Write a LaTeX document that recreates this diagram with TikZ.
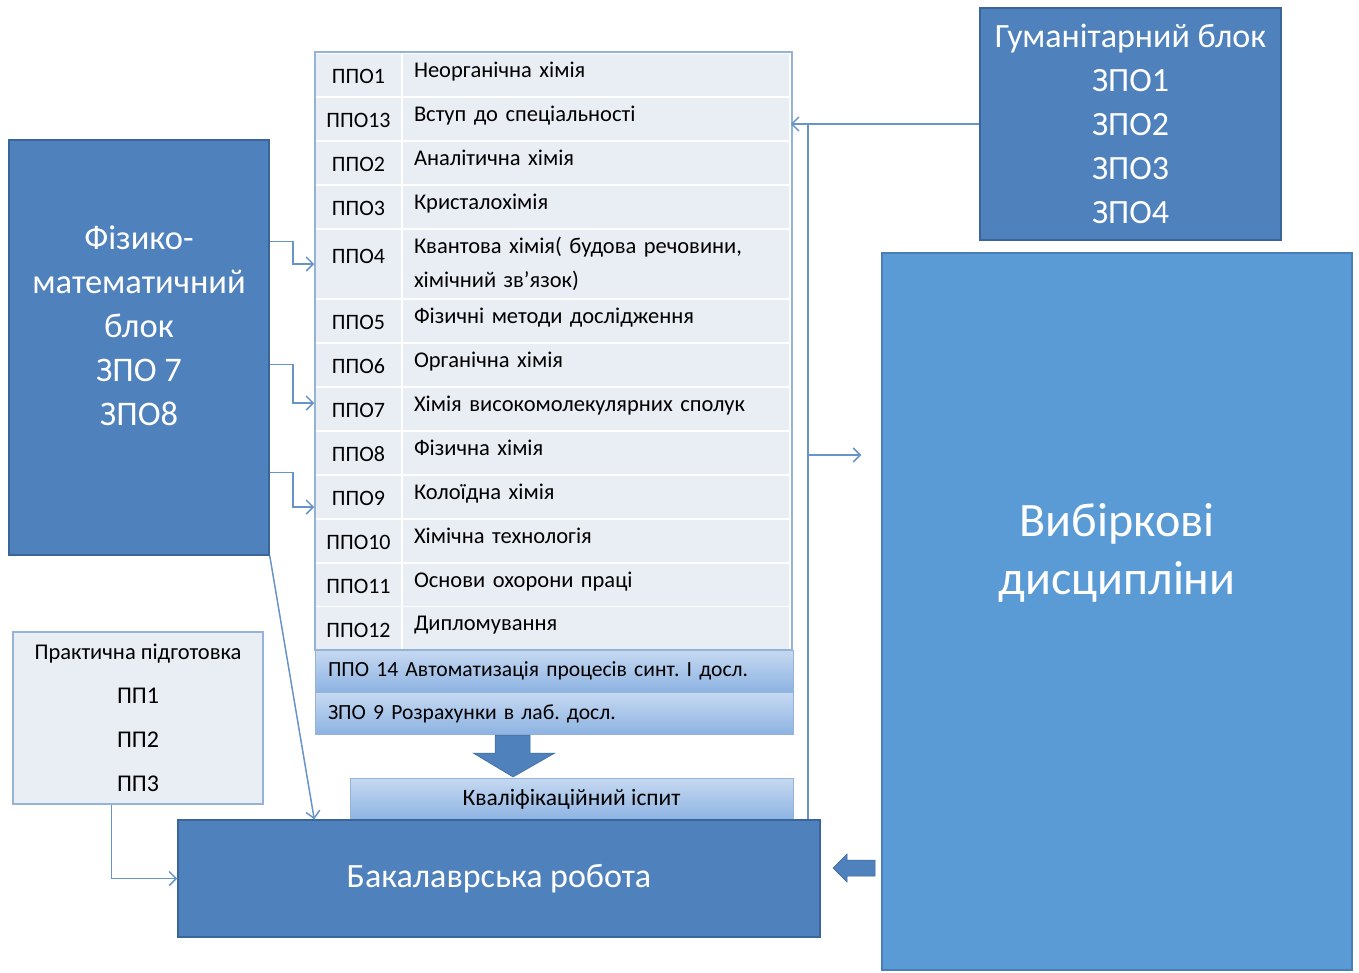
\documentclass[tikz,border=0pt]{standalone}
\usepackage{fontspec}
\setmainfont{Carlito}
\usetikzlibrary{calc,arrows.meta}
\definecolor{boxblue}{HTML}{4F81BD}
\definecolor{boxedge}{HTML}{3A659B}
\definecolor{lightblue}{HTML}{5B9BD5}
\definecolor{lightedge}{HTML}{4A7EBB}
\definecolor{cellgray}{HTML}{E9EDF4}
\definecolor{framecolor}{HTML}{95B3D7}
\definecolor{bartop}{HTML}{C6D9F1}
\definecolor{barbottom}{HTML}{8DB3E2}
\newcommand{\linecolor}{boxblue!85!white}
\newcommand{\thickness}{1.5pt}
\frenchspacing

\begin{document}
\begin{tikzpicture}[x=1pt,y=-1pt,
  bigbox/.style={draw=boxedge, fill=boxblue, line width=\thickness, text=white, inner sep=0pt, align=center},
  bigtext/.style={text=white, inner sep=0pt, align=center},
  lcell/.style={fill=cellgray, draw=white, line width=\thickness, minimum width=87pt, minimum height=44pt, inner sep=0pt, font=\fontsize{22}{26}\selectfont, text height=17pt, text depth=0pt},
  tcell/.style={fill=cellgray, draw=white, line width=\thickness, minimum width=388pt, minimum height=44pt, inner sep=0pt, text width=364pt, align=left, font=\fontsize{22.5}{34}\selectfont},
  tline/.style={tcell, text height=15pt, text depth=11pt},
  bar/.style={top color=bartop, bottom color=barbottom, draw=framecolor, line width=1pt, minimum width=478pt, minimum height=42pt, inner sep=0pt, text width=452pt, align=left, font=\fontsize{21.6}{26}\selectfont},
  qbox/.style={top color=bartop, bottom color=barbottom, draw=framecolor, line width=1pt, minimum width=443pt, minimum height=42pt, inner sep=0pt, font=\fontsize{23.5}{28}\selectfont},
  conn/.style={draw=\linecolor, line width=\thickness},
  arr/.style={conn, -{Straight Barb[length=7pt,width=14pt]}}]
\useasboundingbox (0,0) rectangle (1359,972);
%table
\node[lcell] (l1) at (358.5,75) {ППО1};
\node[tline] (t1) at (596,75) {Неорганічна хімія};
\node[lcell] (l13) at (358.5,119) {ППО13};
\node[tline] (t13) at (596,119) {Вступ до спеціальності};
\node[lcell] (l2) at (358.5,163) {ППО2};
\node[tline] (t2) at (596,163) {Аналітична хімія};
\node[lcell] (l3) at (358.5,207) {ППО3};
\node[tline] (t3) at (596,207) {Кристалохімія};
\node[lcell, minimum height=70pt, text depth=18pt] (l4) at (358.5,264) {ППО4};
\node[tcell, minimum height=70pt] (t4) at (596,264) {Квантова хімія( будова речовини,\\хімічний зв'язок)};
\node[lcell] (l5) at (358.5,321) {ППО5};
\node[tline] (t5) at (596,321) {Фізичні методи дослідження};
\node[lcell] (l6) at (358.5,365) {ППО6};
\node[tline] (t6) at (596,365) {Органічна хімія};
\node[lcell] (l7) at (358.5,409) {ППО7};
\node[tline] (t7) at (596,409) {Хімія високомолекулярних сполук};
\node[lcell] (l8) at (358.5,453) {ППО8};
\node[tline] (t8) at (596,453) {Фізична хімія};
\node[lcell] (l9) at (358.5,497) {ППО9};
\node[tline] (t9) at (596,497) {Колоїдна хімія};
\node[lcell] (l10) at (358.5,541) {ППО10};
\node[tline] (t10) at (596,541) {Хімічна технологія};
\node[lcell] (l11) at (358.5,585) {ППО11};
\node[tline] (t11) at (596,585) {Основи охорони праці};
\node[lcell] (l12) at (358.5,628.5) {ППО12};
\node[tline] (t12) at (596,628.5) {Дипломування};
\draw[draw=framecolor, line width=\thickness] (315,52) rectangle (792,650);
\node[bar] (a14) at (554,671) {ППО 14 Автоматизація процесів синт. І досл.};
\node[bar] (z9) at (554,713.5) {ЗПО 9 Розрахунки в лаб. досл.};
%down arrow
\fill[boxblue, draw=boxedge, line width=0.5pt] (495,735) -- (530,735) -- (530,753) -- (555,753) -- (513,777) -- (473,753) -- (495,753) -- cycle;
\node[qbox] (kv) at (571.5,799) {Кваліфікаційний іспит};
%blocks
\node[bigbox, minimum width=642pt, minimum height=117pt, font=\fontsize{34}{40}\selectfont] (bak) at (499,878.5) {Бакалаврська робота};
\node[bigbox, minimum width=260pt, minimum height=415pt] (fiz) at (139,347.5) {};
\node[bigtext, font=\fontsize{34.5}{44}\selectfont] (fizt) at (139,326) {Фізико-\\математичний\\блок\\ЗПО 7\\ЗПО8};
\node[bigbox, minimum width=301pt, minimum height=232pt, font=\fontsize{34}{44}\selectfont] (hum) at (1130.5,124) {Гуманітарний блок\\ЗПО1\\ЗПО2\\ЗПО3\\ЗПО4};
\node[draw=lightedge, fill=lightblue, line width=\thickness, minimum width=470pt, minimum height=717pt] (vib) at (1117,611.5) {};
\node[bigtext, font=\fontsize{48}{58}\selectfont] (vibt) at (1117,553) {Вибіркові\\дисципліни};
\node[draw=framecolor, fill=cellgray, line width=\thickness, minimum width=250pt, minimum height=172pt, align=center, font=\fontsize{22.5}{44}\selectfont] (pr) at (138,718) {Практична підготовка\\{\fontsize{24}{44}\selectfont ПП1}\\{\fontsize{24}{44}\selectfont ПП2}\\{\fontsize{24}{44}\selectfont ПП3}};
%left arrow
\fill[boxblue, draw=boxedge, line width=0.5pt] (833,868) -- (847,854) -- (847,860) -- (875,860) -- (875,876) -- (847,876) -- (847,882) -- cycle;
%connectors
\draw[arr] ($(fiz.north east)+(0,102)$) -- ++(23,0) |- (l4.west);
\draw[arr] ($(fiz.north east)+(0,225)$) -- ++(23,0) |- ($(l7.west)+(0,-6)$);
\draw[arr] ($(fiz.north east)+(0,333)$) -- ++(23,0) |- ($(l9.west)+(0,10)$);
\draw[arr] (fiz.south east) -- ($(bak.north west)+(137,0)$);
\draw[arr] ($(pr.south west)+(99,0)$) |- (bak.west);
\draw[arr] (hum.west) -- (t13.east |- hum.west);
\coordinate (vtop) at (808,124);
\coordinate (vmid) at (808,455);
\draw[conn] (vtop) -- (vtop |- bak.north);
\draw[arr, shorten >=20pt] (vmid) -- (vib.west |- vmid);
\end{tikzpicture}
\end{document}
